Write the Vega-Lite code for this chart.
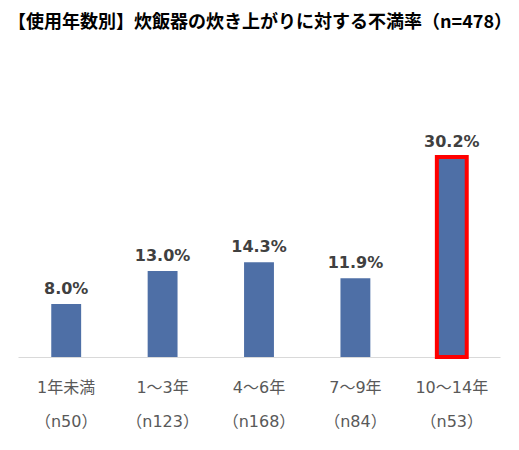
{
  "$schema": "https://vega.github.io/schema/vega-lite/v6.json",
  "description": "使用年数別 炊飯器の炊き上がりに対する不満率",
  "autosize": "none",
  "width": 482,
  "height": 265,
  "padding": {"left": 18, "top": 92, "right": 19, "bottom": 93},
  "background": "#ffffff",
  "title": {
    "text": "【使用年数別】炊飯器の炊き上がりに対する不満率（n=478）",
    "anchor": "start",
    "frame": "group",
    "dx": -10,
    "offset": 60,
    "font": "Noto Sans CJK JP",
    "fontSize": 18,
    "fontWeight": "bold",
    "color": "#000000"
  },
  "data": {
    "values": [
      {"group": "1年未満|（n50）", "rate": 0.080},
      {"group": "1～3年|（n123）", "rate": 0.130},
      {"group": "4～6年|（n168）", "rate": 0.143},
      {"group": "7～9年|（n84）", "rate": 0.119},
      {"group": "10～14年|（n53）", "rate": 0.302}
    ]
  },
  "encoding": {
    "x": {
      "field": "group",
      "type": "nominal",
      "sort": null,
      "scale": {"paddingInner": 0.69, "paddingOuter": 0.345},
      "axis": {
        "title": null,
        "labelAngle": 0,
        "labelExpr": "split(datum.label, '|')",
        "labelFont": "DejaVu Sans, Noto Sans CJK JP",
        "labelFontSize": 16,
        "labelColor": "#595959",
        "labelLineHeight": 34,
        "labelPadding": 22,
        "ticks": false,
        "domainColor": "#d9d9d9",
        "domainWidth": 1
      }
    },
    "y": {
      "field": "rate",
      "type": "quantitative",
      "scale": {"domain": [0, 0.4]},
      "axis": null
    }
  },
  "layer": [
    {
      "mark": {"type": "bar", "color": "#4e6fa6", "strokeWidth": 4},
      "encoding": {
        "stroke": {
          "condition": {"test": "datum.group === '10～14年|（n53）'", "value": "#ff0000"},
          "value": null
        }
      }
    },
    {
      "mark": {
        "type": "text",
        "baseline": "bottom",
        "dy": -7,
        "font": "DejaVu Sans",
        "fontSize": 16,
        "fontWeight": "bold",
        "color": "#404040"
      },
      "encoding": {
        "text": {"field": "rate", "type": "quantitative", "format": ".1%"}
      }
    }
  ],
  "config": {"view": {"stroke": null}}
}
